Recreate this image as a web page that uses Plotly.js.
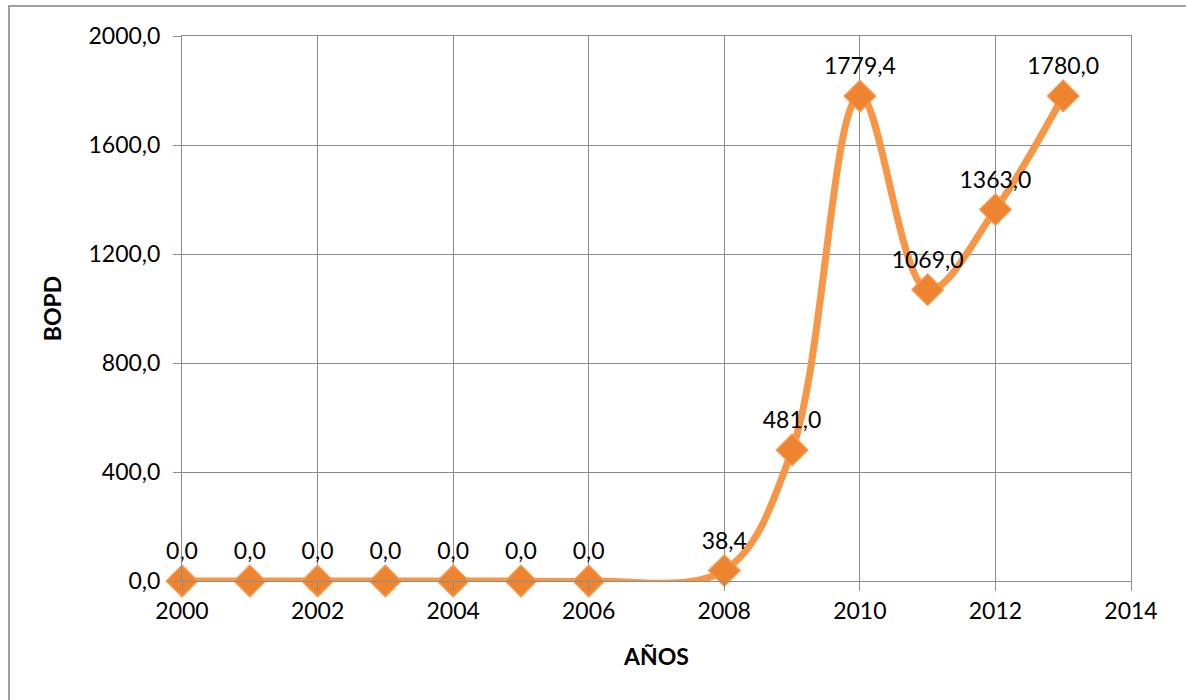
<!DOCTYPE html>
<html>
<head>
<meta charset="utf-8">
<script src="https://cdn.plot.ly/plotly-3.0.1.min.js"></script>
<style>
  html, body { margin: 0; padding: 0; background: #ffffff; }
  #chart { width: 1186px; height: 700px; }
</style>
</head>
<body>
<div id="chart"></div>
<script>
const years = [2000, 2001, 2002, 2003, 2004, 2005, 2006, 2008, 2009, 2010, 2011, 2012, 2013];
const bopd = [0.0, 0.0, 0.0, 0.0, 0.0, 0.0, 0.0, 38.4, 481.0, 1779.4, 1069.0, 1363.0, 1780.0];
const xTicks = [2000, 2002, 2004, 2006, 2008, 2010, 2012, 2014];
const yTicks = [0, 400, 800, 1200, 1600, 2000];
const yTickLabels = ["0,0", "400,0", "800,0", "1200,0", "1600,0", "2000,0"];

const labels = bopd.map(v => v.toFixed(1).replace('.', ','));
const FONT = 'Lato, "Open Sans", "DejaVu Sans", sans-serif';
const FS = 23;

const trace = {
  x: years,
  y: bopd,
  type: 'scatter',
  mode: 'lines+markers+text',
  line: { shape: 'spline', smoothing: 1, color: '#F79646', width: 7 },
  marker: { symbol: 'diamond', size: 24, color: '#EE8430', line: { color: '#F79646', width: 1.5 } },
  text: labels,
  textposition: 'top center',
  textfont: { family: FONT, size: FS, color: '#000000' },
  cliponaxis: false,
  hoverinfo: 'x+y'
};

const W = 949, H = 545;
const layout = {
  width: 1186,
  height: 700,
  margin: { l: 182, r: 55, t: 36, b: 119 },
  paper_bgcolor: '#ffffff',
  plot_bgcolor: '#ffffff',
  showlegend: false,
  font: { family: FONT, size: FS, color: '#000000' },
  xaxis: {
    range: [2000, 2014],
    tickvals: xTicks,
    ticktext: xTicks.map(String),
    showgrid: true,
    gridcolor: '#8c8c8c',
    gridwidth: 1,
    zeroline: false,
    showline: true,
    linecolor: '#8c8c8c',
    linewidth: 1,
    mirror: true,
    ticks: 'outside',
    ticklen: 9,
    tickcolor: '#8c8c8c',
    tickfont: { family: FONT, size: FS, color: '#000000' },
    title: { text: '<b>AÑOS</b>', font: { family: FONT, size: FS, color: '#000000' }, standoff: 26 }
  },
  yaxis: {
    range: [0, 2000],
    tickvals: yTicks,
    ticktext: yTickLabels,
    showgrid: true,
    gridcolor: '#8c8c8c',
    gridwidth: 1,
    zeroline: false,
    showline: true,
    linecolor: '#8c8c8c',
    linewidth: 1,
    mirror: true,
    ticks: 'outside',
    ticklen: 8,
    ticklabelstandoff: 8,
    tickcolor: '#8c8c8c',
    tickfont: { family: FONT, size: FS, color: '#000000' },
    title: { text: '<b>BOPD</b>', font: { family: FONT, size: FS, color: '#000000' }, standoff: 20 }
  },
  shapes: [{
    type: 'rect', xref: 'paper', yref: 'paper',
    x0: (9 - 182) / W, x1: 1.2, y0: -0.4, y1: (581 - 6) / H,
    line: { color: '#a0a0a0', width: 2 }, fillcolor: 'rgba(0,0,0,0)', layer: 'below'
  }]
};

Plotly.newPlot('chart', [trace], layout, { displayModeBar: false, staticPlot: true });
</script>
</body>
</html>
